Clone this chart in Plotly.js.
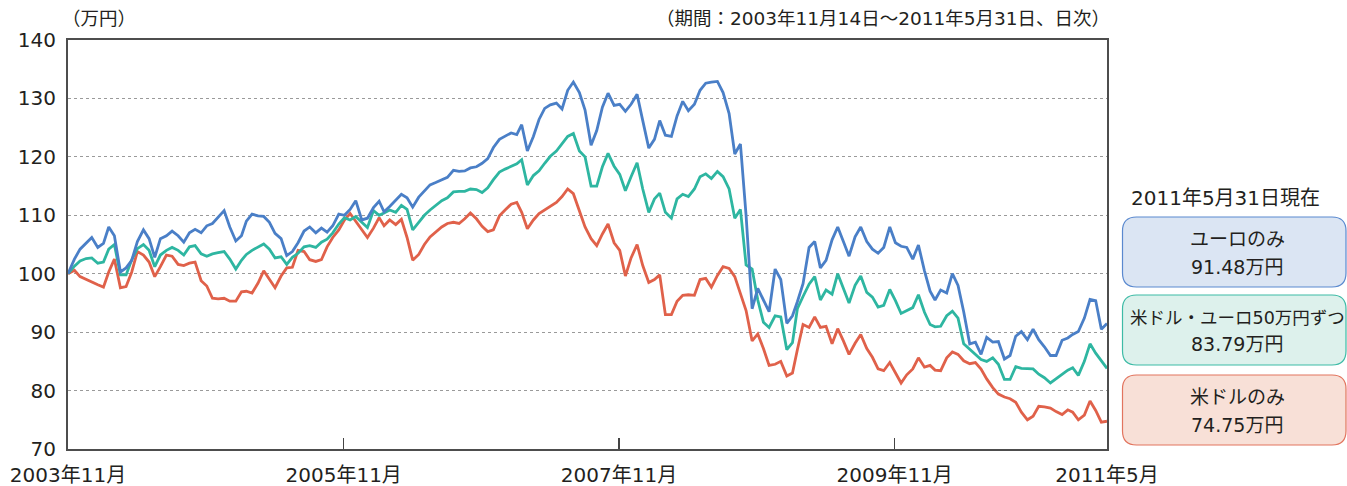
<!DOCTYPE html>
<html>
<head>
<meta charset="utf-8">
<script src="https://cdn.plot.ly/plotly-3.0.1.min.js"></script>
<style>html,body{margin:0;padding:0;background:#fff;}#chart{width:1347px;height:486px;}</style>
</head>
<body>
<div id="chart"></div>
<script>
// sampling dates: start, then 1st & 16th of each month, then end
var dates = ['2003-11-14'];
(function(){
  var y = 2003, m = 12;
  while (y < 2011 || (y === 2011 && m <= 5)) {
    var mm = (m < 10 ? '0' : '') + m;
    dates.push(y + '-' + mm + '-01');
    dates.push(y + '-' + mm + '-16');
    m++; if (m > 12) { m = 1; y++; }
  }
  dates.push('2011-05-31');
})();

// ユーロのみ (万円)
var euroOnly = [100,
  102.5,104.2,
  105.3,106.2, 104.5,105.2, 108,106.5, 100.3,101, 102.3,105.5, 107.5,106, 102.8,106, 106.5,107.3, 106.5,105.4, 107,107.6, 107,108.2, 108.6,109.6,
  110.8,108, 105.6,106.5, 109,110.2, 109.9,109.8, 108.8,106.9, 106,103.1, 103.8,105.3, 107.3,108, 107,107.8, 107.1,108.2, 110.2,110, 111,112.5,
  109.2,109.5, 111.3,112.4, 110.6,111.5, 112.6,113.6, 113,111.4, 113.1,114.2, 115.2,115.6, 116.1,116.5, 117.7,117.5, 117.6,118.1, 118.3,118.9, 119.7,121.6,
  123,123.6, 124.1,123.8, 125.5,121, 123.5,126.4, 128.3,128.9, 129.2,128.2, 131.4,132.8, 131,128, 122,124.5, 128.5,130.9, 128.8,129, 127.8,129,
  130.7,126.2, 121.5,123, 126.2,123.7, 123.5,127, 129.5,127.9, 129,131.4, 132.6,132.8, 132.9,131, 127.4,120.5, 122.2,110, 94,97.5, 95.5,93.5,
  100.8,99, 91.5,92.8, 95.2,98.3, 104.5,105.5, 101,102.3, 105.8,108, 105.5,103, 106.3,108, 105.5,104.2, 103.5,104.5, 108,105.3, 104.7,104.5,
  102.5,104.9, 100.5,97, 95.5,97.2, 96.7,100, 98,93.5, 88,88.3, 86.2,89.1, 88.3,88.4, 85.4,86, 89.3,90.1, 88.7,90.5, 88.7,87.5,
  86,86, 88.6,89, 89.6,90.1, 92.4,95.6, 95.4,90.5,
  91.48];

// 米ドル・ユーロ50万円ずつ (万円)
var halfHalf = [100,
  101.3,102.2,
  102.6,102.7, 101.8,102, 104.2,105, 99.8,99.8, 102.4,104.3, 105,104, 101.2,103.2, 104,104.5, 104,103.2, 104.6,104.8, 103.4,103, 103.4,103.6,
  103.8,102.5, 100.8,102.3, 103.3,104, 104.6,105.1, 104.2,102.7, 102.9,101.6, 102.8,103.5, 104.6,104.8, 104.5,105.4, 105.9,107, 108.5,109.6, 109.2,109.8,
  108.8,107.9, 110.8,110, 110.4,110.9, 110.5,111.7, 111,107.5, 108.8,110, 110.9,111.7, 112.5,113, 114,114.1, 114.1,114.5, 114.4,113.9, 114.7,116.1,
  117.4,117.9, 118.4,118.8, 119.5,115.2, 116.8,117.6, 118.9,120.1, 121,122.3, 123.5,124, 121,120, 115,115, 118.3,120.6, 118.4,117, 114.2,116.6,
  119,114.5, 110.5,112.8, 113.8,110.5, 109.5,112.8, 113.6,113.2, 114.5,116.6, 117.1,116.3, 117.5,116.6, 114.5,109.5, 111,101.5, 100.8,95.5, 91.7,90.8,
  92.8,92.6, 87,88.2, 94,96.1, 98.2,99.5, 95.5,97.2, 96.5,100, 97.5,95, 98,99.6, 96.8,96, 94.3,94.6, 97.3,95.4, 93.2,93.7,
  94.2,96.4, 93.4,91.3, 90.9,91, 92.8,93.6, 92.4,88, 87.1,86.2, 85.3,85, 85.6,84.5, 81.9,81.9, 84.1,83.8, 83.7,83.7, 82.8,82.2,
  81.3,82, 82.9,83.5, 83.9,82.6, 85,88, 86.4,85,
  83.79];

// 米ドルのみ (万円)
var usdOnly = [100,
  100.6,99.5,
  99,98.5, 98.1,97.7, 100.3,102.5, 97.6,97.8, 100.3,103.8, 103.2,102, 99.5,101.2, 103.2,103, 101.6,101.4, 101.8,102, 98.8,97.9, 95.8,95.7,
  95.8,95.3, 95.3,96.9, 97,96.7, 98.4,100.5, 99,97.6, 99.6,101, 101.1,104, 103.8,102.4, 102.1,102.4, 104.6,106.2, 107.5,109.2, 110.3,109,
  107.6,106.2, 107.8,109.6, 108.2,109.2, 108.4,109.3, 106.2,102.3, 103.3,105, 106.3,107.2, 108,108.6, 108.8,108.6, 109.4,110.4, 109.4,108.1, 107.2,107.5,
  109.9,110.9, 111.9,112.2, 110.5,107.7, 109.2,110.3, 110.9,111.5, 112.2,113.2, 114.5,113.7, 110.6,108, 106,104.8, 106.8,108.5, 105.3,104, 99.6,102.7,
  105,101.4, 98.5,99, 99.8,93, 93,95.3, 96.3,96.4, 96.3,99, 99.2,97.7, 99.7,101.2, 100.9,99.5, 96.6,93.7, 88.5,89.7, 87.2,84.3,
  84.5,85, 82.5,83, 87,91.3, 90.8,92.6, 90.8,91, 88,90.6, 88.5,86.2, 88.1,89.6, 87.2,85.7, 83.7,83.4, 84.8,83, 81.3,82.7,
  83.7,85.6, 84,84.3, 83.5,83.4, 85.6,86.6, 86.2,85.1, 84.6,84.8, 83.7,82, 80.5,79.4, 78.9,78.6, 78,76.3, 75,75.6, 77.3,77.2,
  77,76.4, 75.9,76.7, 76.3,75, 75.8,78.2, 76.6,74.6,
  74.75];

var xTickVals = ['2003-11-14','2005-11-14','2007-11-14','2009-11-14','2011-05-31'];
var xTickText = ['2003年11月','2005年11月','2007年11月','2009年11月','2011年5月'];
var seriesNames = ['米ドルのみ','米ドル・ユーロ50万円ずつ','ユーロのみ'];
var boxLine1 = ['ユーロのみ','米ドル・ユーロ50万円ずつ','米ドルのみ'];
var boxLine2 = ['91.48万円','83.79万円','74.75万円'];

var FONT = 'DejaVu Sans, Noto Sans CJK JP, sans-serif';
var TXT = '#231f20';

var traces = [
  {x: dates, y: usdOnly, name: seriesNames[0], type: 'scatter', mode: 'lines', line: {color: '#e0614a', width: 2.8}},
  {x: dates, y: halfHalf, name: seriesNames[1], type: 'scatter', mode: 'lines', line: {color: '#2eb6a1', width: 2.8}},
  {x: dates, y: euroOnly, name: seriesNames[2], type: 'scatter', mode: 'lines', line: {color: '#4a7fc7', width: 2.8}}
];

var PW = 1039, PH = 409;
function rr(x0, y0, x1, y1, r) {
  var rx = r / PW, ry = r / PH;
  return 'M' + (x0 + rx) + ',' + y1 + ' L' + (x1 - rx) + ',' + y1 +
    ' Q' + x1 + ',' + y1 + ' ' + x1 + ',' + (y1 - ry) +
    ' L' + x1 + ',' + (y0 + ry) + ' Q' + x1 + ',' + y0 + ' ' + (x1 - rx) + ',' + y0 +
    ' L' + (x0 + rx) + ',' + y0 + ' Q' + x0 + ',' + y0 + ' ' + x0 + ',' + (y0 + ry) +
    ' L' + x0 + ',' + (y1 - ry) + ' Q' + x0 + ',' + y1 + ' ' + (x0 + rx) + ',' + y1 + ' Z';
}
function px(x) { return (x - 68) / PW; }
function py(y) { return (449 - y) / PH; }

var boxes = [
  {top: 217, bot: 287, fill: '#dbe5f3', line: '#5a89cf', l1: 239, l2: 267, f1: 19},
  {top: 295, bot: 365, fill: '#ddf1ec', line: '#3dbba6', l1: 318, l2: 344, f1: 17.5},
  {top: 375, bot: 445, fill: '#f8e0d7', line: '#e2745e', l1: 397, l2: 425, f1: 19}
];

var shapes = [], annotations = [];
boxes.forEach(function (b, i) {
  shapes.push({type: 'path', xref: 'paper', yref: 'paper', layer: 'above',
    path: rr(px(1122.5), py(b.bot), px(1346), py(b.top), 14),
    fillcolor: b.fill, line: {color: b.line, width: 1.2}});
  annotations.push({xref: 'paper', yref: 'paper', x: px(1237), y: py(b.l1), xanchor: 'center', yanchor: 'middle',
    text: boxLine1[i], showarrow: false, font: {family: FONT, size: b.f1, color: TXT}});
  annotations.push({xref: 'paper', yref: 'paper', x: px(1237), y: py(b.l2), xanchor: 'center', yanchor: 'middle',
    text: boxLine2[i], showarrow: false, font: {family: FONT, size: 19, color: TXT}});
});
annotations.push({xref: 'paper', yref: 'paper', x: px(1129), y: py(198), xanchor: 'left', yanchor: 'middle',
  text: '2011年5月31日現在', showarrow: false, font: {family: FONT, size: 20, color: TXT}});
annotations.push({xref: 'paper', yref: 'paper', x: px(60), y: py(18), xanchor: 'left', yanchor: 'middle',
  text: '（万円）', showarrow: false, font: {family: FONT, size: 18.5, color: TXT}});
annotations.push({xref: 'paper', yref: 'paper', x: px(1112), y: py(18), xanchor: 'right', yanchor: 'middle',
  text: '（期間：2003年11月14日～2011年5月31日、日次）', showarrow: false, font: {family: FONT, size: 18.5, color: TXT}});

var layout = {
  width: 1347, height: 486,
  margin: {l: 68, r: 240, t: 40, b: 37, pad: 0},
  paper_bgcolor: '#fff', plot_bgcolor: '#fff',
  showlegend: false,
  font: {family: FONT, color: TXT},
  xaxis: {
    type: 'date', range: ['2003-11-14', '2011-05-31'],
    tickmode: 'array', tickvals: xTickVals, ticktext: xTickText,
    ticks: 'inside', ticklen: 11, tickwidth: 1.2, tickcolor: '#444',
    showgrid: false, zeroline: false,
    showline: true, mirror: true, linecolor: '#4d4d4d', linewidth: 2,
    tickfont: {family: FONT, size: 20, color: TXT}, ticklabelstandoff: 7
  },
  yaxis: {
    range: [70, 140], tickmode: 'linear', tick0: 70, dtick: 10,
    ticks: '', showgrid: true, gridcolor: '#9a9a9a', griddash: 'dot', gridwidth: 1,
    zeroline: false, showline: true, mirror: true, linecolor: '#4d4d4d', linewidth: 2,
    tickfont: {family: FONT, size: 20, color: TXT}, ticklabelstandoff: 6
  },
  shapes: shapes,
  annotations: annotations
};

Plotly.newPlot('chart', traces, layout, {staticPlot: true, displayModeBar: false});
</script>
</body>
</html>
